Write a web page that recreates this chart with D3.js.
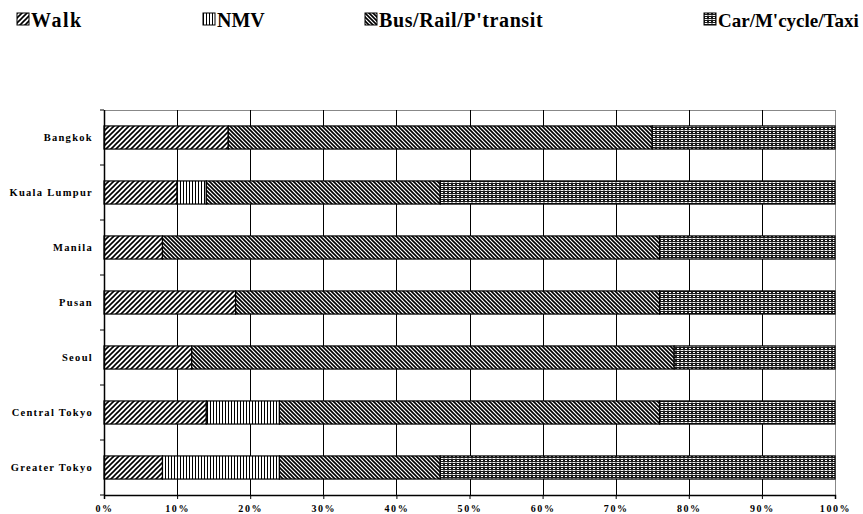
<!DOCTYPE html>
<html><head><meta charset="utf-8">
<script src="https://cdn.jsdelivr.net/npm/d3@7"></script>
<style>body{margin:0;background:#fff}svg{display:block}</style>
</head><body>
<svg id="c" width="863" height="514"></svg>
<script>
const cities = ["Bangkok","Kuala Lumpur","Manila","Pusan","Seoul","Central Tokyo","Greater Tokyo"];
const modes = ["Walk","NMV","Bus/Rail/P'transit","Car/M'cycle/Taxi"];
const walk = [17,10,8,18,12,14,8];
const nmv  = [0,4,0,0,0,10,16];
const bus  = [58,32,68,58,66,52,22];
const car  = [25,54,24,24,22,24,54];
const xTicks = [0,10,20,30,40,50,60,70,80,90,100];
const xTickLabels = ["0%","10%","20%","30%","40%","50%","60%","70%","80%","90%","100%"];

const series = [walk,nmv,bus,car];
const table = cities.map((c,i)=>{const o={city:c}; modes.forEach((m,j)=>o[m]=series[j][i]); return o;});
const stack = d3.stack().keys(modes)(table);

const svg = d3.select("#c");
const L=104,R=835,T=110,B=495;
const x = d3.scaleLinear().domain([0,100]).range([L,R]);
const y = d3.scaleBand().domain(cities).range([T,B]).paddingInner(0.58).paddingOuter(0.29);

const defs = svg.append("defs");
function pat(id,w,h,draw){const p=defs.append("pattern").attr("id",id).attr("patternUnits","userSpaceOnUse").attr("width",w).attr("height",h);p.append("rect").attr("width",w).attr("height",h).attr("fill","#fff");draw(p);}
pat("pWalk",5,5,p=>p.append("path").attr("d","M-1,6 L6,-1 M-1,1 L1,-1 M4,6 L6,4").attr("stroke","#000").attr("stroke-width",1.6));
pat("pNMV",3,4,p=>p.append("rect").attr("x",0).attr("width",1).attr("height",4).attr("fill","#000"));
pat("pBus",4,4,p=>p.append("path").attr("d","M-1,-1 L5,5 M3,-1 L5,1 M-1,3 L1,5").attr("stroke","#000").attr("stroke-width",1.6));
pat("pCar",4,4,p=>{
  p.append("rect").attr("x",0).attr("y",0).attr("width",4).attr("height",4).attr("fill","#1a1a1a");
  p.append("rect").attr("x",1).attr("y",0).attr("width",2).attr("height",1).attr("fill","#fff");
  p.append("rect").attr("x",0).attr("y",2).attr("width",4).attr("height",1).attr("fill","#999");
  p.append("rect").attr("x",1).attr("y",2).attr("width",2).attr("height",1).attr("fill","#fff");
});
const fills = ["url(#pWalk)","url(#pNMV)","url(#pBus)","url(#pCar)"];

// plot border (top/right gray)
svg.append("line").attr("x1",L).attr("x2",R).attr("y1",T+0.5).attr("y2",T+0.5).attr("stroke","#888");
svg.append("line").attr("x1",R+0.5).attr("x2",R+0.5).attr("y1",T).attr("y2",B).attr("stroke","#888");
// gridlines
svg.append("g").selectAll("line").data(xTicks.slice(1,-1)).join("line")
  .attr("x1",d=>Math.round(x(d))+0.5).attr("x2",d=>Math.round(x(d))+0.5)
  .attr("y1",T).attr("y2",B).attr("stroke","#000").attr("stroke-width",1);

// bars
svg.append("g").selectAll("g").data(stack).join("g").attr("fill",(d,i)=>fills[i])
  .selectAll("rect").data(d=>d.filter(s=>s[1]-s[0]>0)).join("rect")
  .attr("x",d=>x(d[0])).attr("width",d=>x(d[1])-x(d[0]))
  .attr("y",d=>y(d.data.city)).attr("height",y.bandwidth())
  .attr("stroke","#000").attr("stroke-width",1.2);

// left axis
const step = y.step();
const bounds = d3.range(cities.length+1).map(k=>T+k*step);
svg.append("line").attr("x1",L+0.5).attr("x2",L+0.5).attr("y1",T).attr("y2",B).attr("stroke","#000").attr("stroke-width",1.5);
svg.append("g").selectAll("line").data(bounds).join("line")
  .attr("x1",L-4).attr("x2",L).attr("y1",d=>d).attr("y2",d=>d).attr("stroke","#000");
svg.append("g").selectAll("text").data(cities).join("text")
  .attr("x",93).attr("y",d=>y(d)+y.bandwidth()/2+3.5).attr("text-anchor","end")
  .attr("font-family","Liberation Serif").attr("font-weight","bold").attr("font-size",10.5)
  .attr("letter-spacing",1.3).text(d=>d);

// bottom axis
const xAxis = d3.axisBottom(x).tickValues(xTicks).tickFormat((d,i)=>xTickLabels[i]).tickSize(4).tickPadding(6);
const gx = svg.append("g").attr("transform",`translate(0,${B})`).call(xAxis);
gx.select(".domain").attr("stroke","#000").attr("stroke-width",1.5);
gx.selectAll("text").attr("font-family","Liberation Serif").attr("font-weight","bold").attr("font-size",10).attr("letter-spacing",1.6).attr("fill","#000");

// legend
const legX = [17,203,365,704];
const legSpacing = [1.5,0,0.6,0];
const legSize = [20,20,20,19];
const lg = svg.append("g").selectAll("g").data(modes).join("g").attr("transform",(d,i)=>`translate(${legX[i]},13)`);
lg.append("rect").attr("width",12).attr("height",12).attr("fill",(d,i)=>fills[i]).attr("stroke","#000").attr("stroke-width",1);
lg.append("text").attr("x",14).attr("y",13.5).attr("font-family","Liberation Serif").attr("font-weight","bold")
  .attr("font-size",(d,i)=>legSize[i]).attr("letter-spacing",(d,i)=>legSpacing[i]).text(d=>d);
</script>
</body></html>
